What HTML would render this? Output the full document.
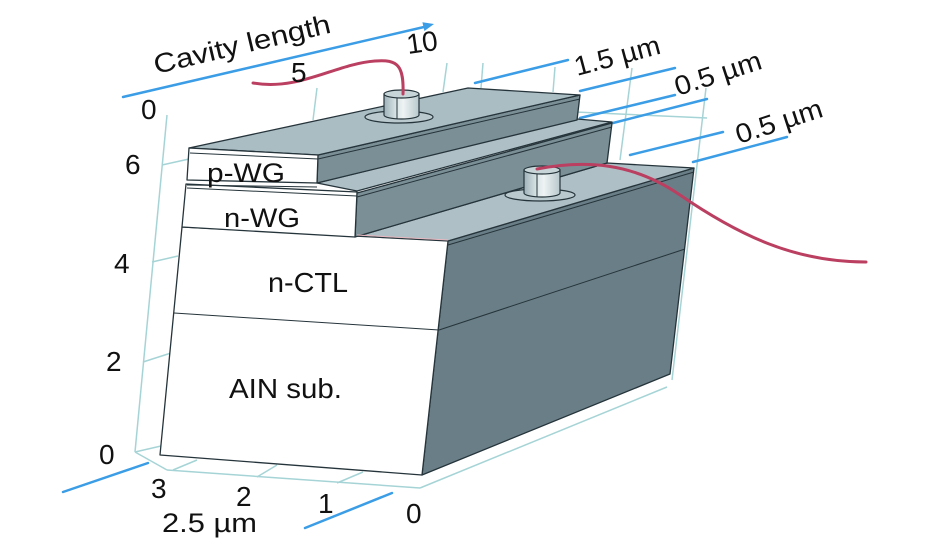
<!DOCTYPE html>
<html>
<head>
<meta charset="utf-8">
<style>
html,body{margin:0;padding:0;background:#fff;}
svg{display:block;}
text{font-family:"Liberation Sans",sans-serif;fill:#111;}
</style>
</head>
<body>
<svg width="945" height="544" viewBox="0 0 945 544" xmlns="http://www.w3.org/2000/svg">
<defs>
<linearGradient id="cyl" x1="0" x2="1" y1="0" y2="0">
<stop offset="0" stop-color="#9fb3b9"/>
<stop offset="0.35" stop-color="#d9e4e6"/>
<stop offset="0.55" stop-color="#eef3f4"/>
<stop offset="1" stop-color="#b7c8cc"/>
</linearGradient>
</defs>

<!-- grid lines (light teal) -->
<g stroke="#a6d4d6" stroke-width="1.5" fill="none">
<line x1="167" y1="115" x2="135" y2="452"/>
<line x1="162" y1="165" x2="189" y2="159"/>
<line x1="152" y1="262" x2="178" y2="256"/>
<line x1="143" y1="362" x2="171" y2="353"/>
<line x1="135" y1="452" x2="161" y2="446"/>
<line x1="135" y1="452" x2="167" y2="470"/>
<line x1="167" y1="470" x2="420" y2="488"/>
<line x1="420" y1="488" x2="667" y2="387"/>
<line x1="197" y1="460" x2="173" y2="470"/>
<line x1="277" y1="465" x2="257" y2="477"/>
<line x1="363" y1="472" x2="337" y2="483"/>
<line x1="706" y1="88" x2="672" y2="380"/>
<line x1="317" y1="88" x2="313" y2="120"/>
<line x1="447" y1="63" x2="443" y2="92"/>
<line x1="483" y1="63" x2="481" y2="88"/>
<line x1="555" y1="67" x2="553" y2="92"/>
<line x1="632" y1="68" x2="620" y2="160"/>
<line x1="575" y1="112" x2="707" y2="118"/>
</g>

<!-- blue dimension lines -->
<g stroke="#3b9de6" stroke-width="2.5" fill="none" stroke-linecap="round">
<line x1="123" y1="97" x2="424" y2="27"/>
<line x1="475" y1="83" x2="568" y2="60"/>
<line x1="580" y1="91" x2="675" y2="68"/>
<line x1="580" y1="118" x2="675" y2="95"/>
<line x1="613" y1="123" x2="707" y2="99"/>
<line x1="630" y1="155" x2="723" y2="132"/>
<line x1="693" y1="162" x2="787" y2="137"/>
<line x1="63" y1="492" x2="148" y2="463"/>
<line x1="305" y1="528" x2="392" y2="493"/>
</g>
<polygon points="434,24 422.4,22.2 424.4,31" fill="#3b9de6"/>

<!-- device geometry -->
<g stroke="#25343a" stroke-width="1.3" stroke-linejoin="round">
<polygon points="448,241 694,168 670,374 422,475" fill="#6a7e87"/>
<polygon points="355,237 448,241 694,168 607,163" fill="#aebfc5"/>
<polygon points="182,227 448,241 422,475 160,455" fill="#ffffff"/>
<polygon points="357,193 612,123 607,163 355,237" fill="#7b8f96"/>
<polygon points="317,183 357,191 612,122 577,119" fill="#aebfc5"/>
<polygon points="186,184 357,192 355,237 182,227" fill="#ffffff"/>
<polygon points="318,155 580,95 577,120 317,183" fill="#7b8f96"/>
<polygon points="189,148 318,155 580,95 468,88" fill="#aabdc3"/>
<polygon points="189,148 318,155 317,183 187,180" fill="#ffffff"/>
</g>

<!-- detail lines -->
<g stroke="#25343a" stroke-width="1" fill="none">
<line x1="174" y1="313" x2="439" y2="330"/>
<line x1="439" y1="330" x2="685" y2="249"/>
<line x1="448" y1="245" x2="694" y2="172"/>
<line x1="190" y1="153" x2="318" y2="159"/>
<line x1="318" y1="159" x2="580" y2="99"/>
<line x1="187" y1="185" x2="317" y2="187"/>
<line x1="187" y1="188" x2="357" y2="196"/>
<line x1="357" y1="197" x2="612" y2="127"/>
<line x1="357" y1="235" x2="448" y2="240" stroke="#e9b7bf" stroke-width="1"/>
</g>

<!-- contact pillars -->
<g stroke="#25343a" stroke-width="1.2">
<ellipse cx="399" cy="117" rx="34" ry="6" fill="#b9c9cd"/>
<path d="M384,94 L384,115 A17.5,4 0 0 0 419,115 L419,94 Z" fill="url(#cyl)"/>
<ellipse cx="401.5" cy="94" rx="17.5" ry="4" fill="#c7d5d8"/>
<line x1="397" y1="98" x2="397" y2="119" stroke-width="1"/>
<ellipse cx="540" cy="195" rx="35" ry="6" fill="#b9c9cd"/>
<path d="M524,170 L524,193 A18,4 0 0 0 560,193 L560,170 Z" fill="url(#cyl)"/>
<ellipse cx="542" cy="170" rx="18" ry="4" fill="#c7d5d8"/>
<line x1="537" y1="174" x2="537" y2="197" stroke-width="1"/>
</g>

<!-- red wires -->
<g stroke="#bb3f60" stroke-width="3" fill="none" stroke-linecap="round">
<path d="M253,83 C300,91 335,64 375,61 C398,59 404,66 403,94"/>
<path d="M537,169 C585,160 632,162 680,195 C740,236 795,262 866,262"/>
</g>

<!-- labels -->
<text x="156" y="74" font-size="27" transform="rotate(-13.3 156 74)" textLength="181" lengthAdjust="spacingAndGlyphs">Cavity length</text>
<text x="408" y="54" font-size="28" transform="rotate(-8 408 54)">10</text>
<text x="291" y="82" font-size="28">5</text>
<text x="141" y="119" font-size="28">0</text>
<text x="125" y="174" font-size="28">6</text>
<text x="114" y="273" font-size="28">4</text>
<text x="106" y="371" font-size="28">2</text>
<text x="99" y="464" font-size="28">0</text>
<text x="151" y="498" font-size="28">3</text>
<text x="236" y="506" font-size="28">2</text>
<text x="318" y="513" font-size="28">1</text>
<text x="406" y="523" font-size="28">0</text>
<text x="162" y="532" font-size="27" textLength="95" lengthAdjust="spacingAndGlyphs">2.5 µm</text>
<text x="229" y="398" font-size="28" textLength="113" lengthAdjust="spacingAndGlyphs">AIN sub.</text>
<text x="268" y="292" font-size="28" textLength="80" lengthAdjust="spacingAndGlyphs">n-CTL</text>
<text x="224" y="227" font-size="27" textLength="76" lengthAdjust="spacingAndGlyphs">n-WG</text>
<text x="207" y="182" font-size="27" textLength="78" lengthAdjust="spacingAndGlyphs">p-WG</text>
<text x="577" y="76" font-size="27" transform="rotate(-15 577 76)" textLength="88" lengthAdjust="spacingAndGlyphs">1.5 µm</text>
<text x="678" y="96" font-size="27" transform="rotate(-18 678 96)" textLength="90" lengthAdjust="spacingAndGlyphs">0.5 µm</text>
<text x="739" y="144" font-size="27" transform="rotate(-18 739 144)" textLength="90" lengthAdjust="spacingAndGlyphs">0.5 µm</text>
</svg>
</body>
</html>
